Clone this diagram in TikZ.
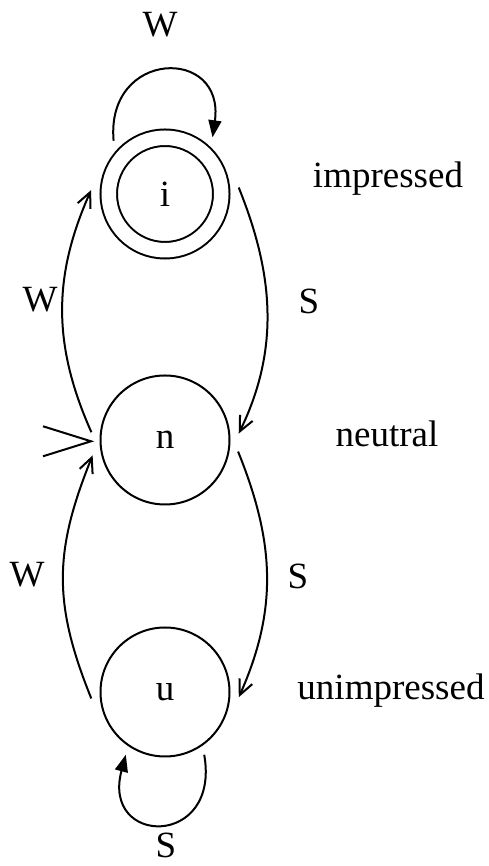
\documentclass[tikz,border=0pt]{standalone}
\usepackage{fontspec}
\setmainfont{Liberation Serif}
\usetikzlibrary{arrows.meta}
\begin{document}
\begin{tikzpicture}[x=1pt, y=1pt, line width=2pt,
  every node/.style={font=\fontsize{37}{44}\selectfont},
  state/.style={circle, draw, minimum size=129pt, inner sep=0pt, outer sep=9.5pt},
  acceptstate/.style={double, double distance=14.5pt, minimum size=112.5pt, outer sep=17.75pt},
  trans/.style={-{Straight Barb[length=15pt, width=14pt]}},
  selftrans/.style={-{Triangle[length=17pt, width=13pt]}},
  mood/.style={anchor=base}]
\useasboundingbox (0,0) rectangle (489,866);
% Estados
\node[state, acceptstate] (i) at (165,672) {i};
\node[state] (n) at (165,426) {n};
\node[state] (u) at (165,174) {u};
% Nomes dos estados
\node[mood] (imp) at (388,678) {impressed};
\node[mood] (neu) at (387,419) {neutral};
\node[mood] (unimp) at (391,166) {unimpressed};
% Transicoes
\draw[trans] (i.5) .. controls +(-68:92) and +(64:95) .. (n.5);
\draw[trans] (n.-9) .. controls +(-68:97) and +(66:97) .. (u.-4);
\draw[trans] (n.174) .. controls +(114:95) and +(-114:95) .. (i.177);
\draw[trans] (u.185) .. controls +(112:103) and +(-112:103) .. (n.192);
\draw[selftrans] (i.134) .. controls +(95:92) and +(82:92) .. (i.50);
\draw[selftrans] (u.-58) .. controls +(-80:95) and +(-105:95) .. (u.-122);
% Inicio
\draw (n.181) ++(-48,15) -- (n.181) -- ++(-48,-15);
% Rotulos
\node (wtop) at (160,841) {W};
\node (wup) at (40,566) {W};
\node (wlow) at (27,291) {W};
\node (sright) at (309,565) {S};
\node (slow) at (298,290) {S};
\node (sbot) at (166,21) {S};
\end{tikzpicture}
\end{document}
